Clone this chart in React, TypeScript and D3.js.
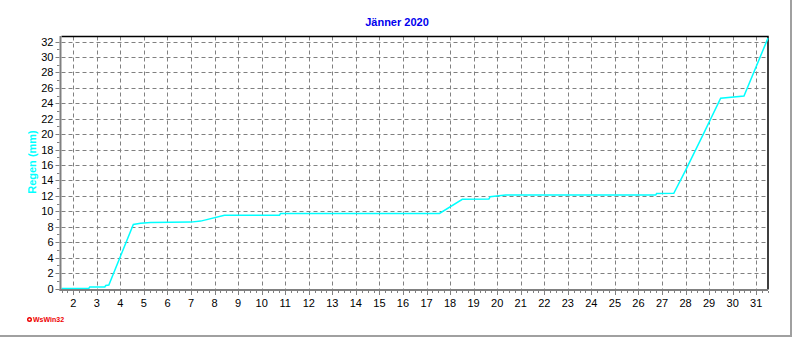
import React, { useEffect, useRef } from "react";
import * as d3 from "d3";

// cumulative rain for January 2020, x = day of month (fractional)
const dayPos: number[] = [
  1.5, 2.66, 2.7, 3.34, 3.38, 3.51, 4.55, 4.86, 5.28, 6.98, 7.41, 8.42, 10.76,
  10.8, 17.55, 18.52, 19.65, 19.7, 20.36, 26.73, 26.77, 27.5, 28.0, 28.77,
  29.49, 30.48, 31.5,
];
const rainMm: number[] = [
  0, 0, 0.2, 0.2, 0.4, 0.45, 8.3, 8.45, 8.56, 8.6, 8.73, 9.5, 9.5, 9.73, 9.73,
  11.55, 11.6, 11.9, 12.1, 12.1, 12.3, 12.33, 15.3, 20.1, 24.65, 24.95, 32.44,
];
const dayTicks: number[] = d3.range(2, 32);
const rainTicks: number[] = d3.range(0, 33, 2);

const title = "Jänner 2020";
const yLabel = "Regen  (mm)";

const App = () => {
  const ref = useRef<SVGSVGElement>(null);

  useEffect(() => {
    const svg = d3.select(ref.current);
    svg.selectAll("*").remove();

    const left = 61.5;
    const right = 768;
    const top = 36.5;
    const bottom = 288.5;
    const font = "Arial, 'Liberation Sans', sans-serif";

    const x = d3.scaleLinear().domain([1.5, 31.5]).range([left, right]);
    const y = d3.scaleLinear().domain([0, 32.65]).range([bottom, top]);

    // outer frame (right and bottom only)
    svg.append("line").attr("x1", 791).attr("x2", 791).attr("y1", 0).attr("y2", 337)
      .attr("stroke", "#a0a0a0").attr("stroke-width", 2);
    svg.append("line").attr("x1", 0).attr("x2", 792).attr("y1", 336).attr("y2", 336)
      .attr("stroke", "#a0a0a0").attr("stroke-width", 2);

    // title
    svg.append("text")
      .attr("x", 397).attr("y", 25.5)
      .attr("text-anchor", "middle")
      .attr("font-family", font).attr("font-size", 11).attr("font-weight", "bold")
      .attr("fill", "#0000ee")
      .text(title);

    // y label
    svg.append("text")
      .attr("transform", "translate(35.5,162) rotate(-90)")
      .attr("text-anchor", "middle")
      .attr("font-family", font).attr("font-size", 11).attr("font-weight", "bold")
      .attr("fill", "#00ffff")
      .text(yLabel);

    // grid
    const grid = svg.append("g")
      .attr("stroke", "#808080").attr("stroke-width", 1)
      .attr("stroke-dasharray", "4,3");
    grid.selectAll(".h").data(rainTicks.filter((d) => d > 0)).enter()
      .append("line")
      .attr("x1", left).attr("x2", right)
      .attr("y1", (d) => Math.round(y(d)) + 0.5).attr("y2", (d) => Math.round(y(d)) + 0.5);
    grid.selectAll(".v").data(dayTicks).enter()
      .append("line")
      .attr("x1", (d) => Math.round(x(d)) + 0.5).attr("x2", (d) => Math.round(x(d)) + 0.5)
      .attr("y1", top).attr("y2", bottom + 0.5);

    // top and right border
    svg.append("path")
      .attr("d", `M${left},${top}H${right}V${bottom + 1}`)
      .attr("fill", "none").attr("stroke", "#000").attr("stroke-width", 1.5);

    // rain line
    const line = d3.line<number>()
      .x((d, i) => x(dayPos[i]))
      .y((d) => y(d));
    svg.append("path")
      .datum(rainMm)
      .attr("fill", "none")
      .attr("stroke", "#00ffff")
      .attr("stroke-width", 1.5)
      .attr("d", line);

    // axes
    svg.append("line").attr("x1", 60.5).attr("x2", 60.5)
      .attr("y1", top - 0.5).attr("y2", 291)
      .attr("stroke", "#808080").attr("stroke-width", 2);
    svg.append("line").attr("x1", 59.5).attr("x2", right)
      .attr("y1", 290).attr("y2", 290)
      .attr("stroke", "#808080").attr("stroke-width", 2);

    // y ticks
    const minorY = d3.range(1, 33, 2);
    svg.selectAll(".ymin").data(minorY).enter().append("line")
      .attr("x1", 57).attr("x2", 59.5)
      .attr("y1", (d) => Math.round(y(d)) + 0.5).attr("y2", (d) => Math.round(y(d)) + 0.5)
      .attr("stroke", "#808080");
    svg.selectAll(".ymaj").data(rainTicks).enter().append("line")
      .attr("x1", 55.5).attr("x2", 59.5)
      .attr("y1", (d) => Math.round(y(d)) + 0.5).attr("y2", (d) => Math.round(y(d)) + 0.5)
      .attr("stroke", "#808080");
    svg.selectAll(".ylab").data(rainTicks).enter().append("text")
      .attr("x", 53.5).attr("y", (d) => y(d) + 4)
      .attr("text-anchor", "end")
      .attr("font-family", font).attr("font-size", 11)
      .attr("fill", "#000")
      .text((d) => d);

    // x ticks
    const minorX = d3.range(1.5, 31.6, 0.25).filter((d) => d % 1 !== 0);
    svg.selectAll(".xmin").data(minorX).enter().append("line")
      .attr("x1", (d) => Math.round(x(d)) + 0.5).attr("x2", (d) => Math.round(x(d)) + 0.5)
      .attr("y1", 291).attr("y2", 293)
      .attr("stroke", "#808080");
    svg.selectAll(".xmaj").data(dayTicks).enter().append("line")
      .attr("x1", (d) => Math.round(x(d)) + 0.5).attr("x2", (d) => Math.round(x(d)) + 0.5)
      .attr("y1", 291).attr("y2", 295)
      .attr("stroke", "#808080");
    svg.selectAll(".xlab").data(dayTicks).enter().append("text")
      .attr("x", (d) => x(d)).attr("y", 306.5)
      .attr("text-anchor", "middle")
      .attr("font-family", font).attr("font-size", 11)
      .attr("fill", "#000")
      .text((d) => d);

    // WsWin32 logo
    svg.append("circle").attr("cx", 29.5).attr("cy", 319.5).attr("r", 1.8)
      .attr("fill", "#fff").attr("stroke", "#ee0000").attr("stroke-width", 1.4);
    svg.append("text")
      .attr("x", 33).attr("y", 322)
      .attr("font-family", font).attr("font-size", 7).attr("font-weight", "bold")
      .attr("fill", "#ee0000")
      .text("WsWin32");
  }, []);

  return (
    <svg
      ref={ref}
      width={792}
      height={337}
      style={{ position: "absolute", left: 0, top: 0, background: "#fff" }}
    />
  );
};

export default App;
